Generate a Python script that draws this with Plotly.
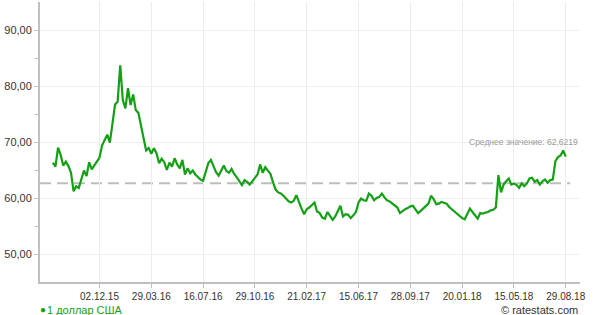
import plotly.graph_objects as go

# USD/RUB rate (roughly every 5th trading day)
usd_rates = [
    66.3, 65.6, 69.0, 67.7, 65.8, 66.5, 65.7, 64.5, 61.2, 62.1,
    61.8, 63.4, 64.9, 63.9, 66.4, 65.1, 65.8, 66.5, 67.2, 69.4,
    70.4, 71.3, 69.9, 73.2, 76.7, 77.2, 83.7, 77.5, 76.0, 79.6,
    76.6, 78.5, 75.7, 75.2, 73.0, 71.0, 68.5, 68.9, 67.9, 68.9,
    68.0, 66.2, 67.0, 66.4, 65.0, 66.3, 65.6, 67.1, 66.0, 65.3,
    66.8, 64.2, 65.3, 64.4, 64.9, 64.2, 63.8, 63.3, 63.1, 64.7,
    66.2, 66.8, 65.6, 64.6, 64.0, 64.8, 65.8, 64.8, 64.5, 65.2,
    64.3, 63.7, 63.1, 62.3, 63.2, 62.9, 62.4, 63.1, 63.6, 64.2,
    66.0, 64.5, 65.5, 64.9, 64.3, 62.8, 61.5, 61.0, 60.8, 60.4,
    59.8, 59.4, 59.2, 59.5, 60.5, 59.2, 58.1, 57.1, 58.0, 58.3,
    58.7, 59.2, 57.6, 57.3, 56.5, 56.3, 57.5, 56.7, 56.1, 56.7,
    57.6, 58.6, 56.7, 57.1, 57.0, 56.4, 56.9, 57.5, 59.2, 59.9,
    59.6, 59.5, 60.8, 60.4, 59.6, 60.0, 60.2, 60.8, 60.1, 59.6,
    59.4, 59.0, 58.7, 58.3, 57.3, 57.7, 58.0, 58.2, 58.5, 58.6,
    57.9, 57.3, 57.7, 58.1, 58.6, 59.0, 60.4, 59.8, 58.9, 59.0,
    59.3, 59.1, 59.0, 58.4, 58.0, 57.6, 57.2, 56.8, 56.4, 56.2,
    57.1, 58.1, 57.5, 56.8, 56.3, 57.3, 57.2, 57.4, 57.5, 57.8,
    57.9, 58.3, 64.1, 61.0, 62.4, 63.0, 63.5, 62.4, 62.6, 62.3,
    61.8, 62.6, 62.1, 62.6, 63.5, 63.6, 62.9, 63.2, 62.4, 63.0,
    63.3, 62.7, 63.2, 63.3, 66.6, 67.3, 67.6, 68.5, 67.4,
]
tick_labels = ["02.12.15", "29.03.16", "16.07.16", "29.10.16", "21.02.17",
               "15.06.17", "28.09.17", "20.01.18", "15.05.18", "29.08.18"]
tick_index = [18, 38, 58, 78, 98, 118, 138, 158, 178, 198]
y_ticks = [50, 60, 70, 80, 90]
mean_value = 62.6219
series_name = "1 доллар США"
source_text = "© ratestats.com"

FONT = "Liberation Sans, Arial, sans-serif"
GREEN = "#14a014"

x = list(range(len(usd_rates)))

fig = go.Figure()
fig.add_trace(go.Scatter(
    x=x, y=usd_rates, mode="lines",
    line=dict(color=GREEN, width=2.2),
    showlegend=False, hoverinfo="skip",
))

fig.add_shape(
    type="line", xref="paper", x0=0, x1=0.982, yref="y",
    y0=mean_value, y1=mean_value,
    line=dict(color="#bdbdbd", width=2, dash="11px,6px"),
    layer="below",
)

mean_text = "Среднее значение: " + f"{mean_value:.4f}".replace(".", ",")
fig.add_annotation(
    xref="paper", x=1.0, xanchor="right", yref="y", y=mean_value,
    yanchor="middle", yshift=41, showarrow=False,
    text=mean_text, font=dict(family=FONT, size=8.5, color="#9a9a9a"),
)

# legend: dot + series name
fig.add_annotation(
    xref="paper", x=0.0, xanchor="left", yref="paper", y=-0.1,
    yanchor="middle", showarrow=False, xshift=-2, yshift=1,
    text="●", font=dict(family=FONT, size=10, color=GREEN),
)
fig.add_annotation(
    xref="paper", x=0.0, xanchor="left", yref="paper", y=-0.1,
    yanchor="middle", showarrow=False, xshift=5,
    text=series_name, font=dict(family=FONT, size=11, color=GREEN),
)
fig.add_annotation(
    xref="paper", x=1.0, xanchor="right", yref="paper", y=-0.1,
    yanchor="middle", showarrow=False,
    text=source_text, font=dict(family=FONT, size=11, color="#333333"),
)

fig.update_layout(
    width=600, height=315,
    margin=dict(l=40, r=20, t=2, b=33),
    paper_bgcolor="white", plot_bgcolor="white",
    separators=", ",
    font=dict(family=FONT, color="#333333"),
    xaxis=dict(
        range=[-4.97, 203.5],
        tickmode="array", tickvals=tick_index, ticktext=tick_labels,
        showgrid=True, gridcolor="#ededed", gridwidth=1,
        showline=True, linecolor="#c0c0c0", linewidth=2,
        ticks="outside", ticklen=4, tickcolor="#c0c0c0",
        tickfont=dict(size=10, color="#333333"),
        zeroline=False,
    ),
    yaxis=dict(
        range=[45, 95],
        tickmode="array", tickvals=y_ticks, tickformat=".2f",
        showgrid=True, gridcolor="#f0f0f0", gridwidth=1,
        showline=True, linecolor="#c0c0c0", linewidth=2,
        ticks="outside", ticklen=4, tickcolor="#c0c0c0",
        tickfont=dict(size=11, color="#333333"),
        minor=dict(ticks="outside", ticklen=3, tickcolor="#c0c0c0",
                   tickvals=[55, 65, 75, 85], showgrid=False),
        zeroline=False,
    ),
)

fig.write_html("out.html")
